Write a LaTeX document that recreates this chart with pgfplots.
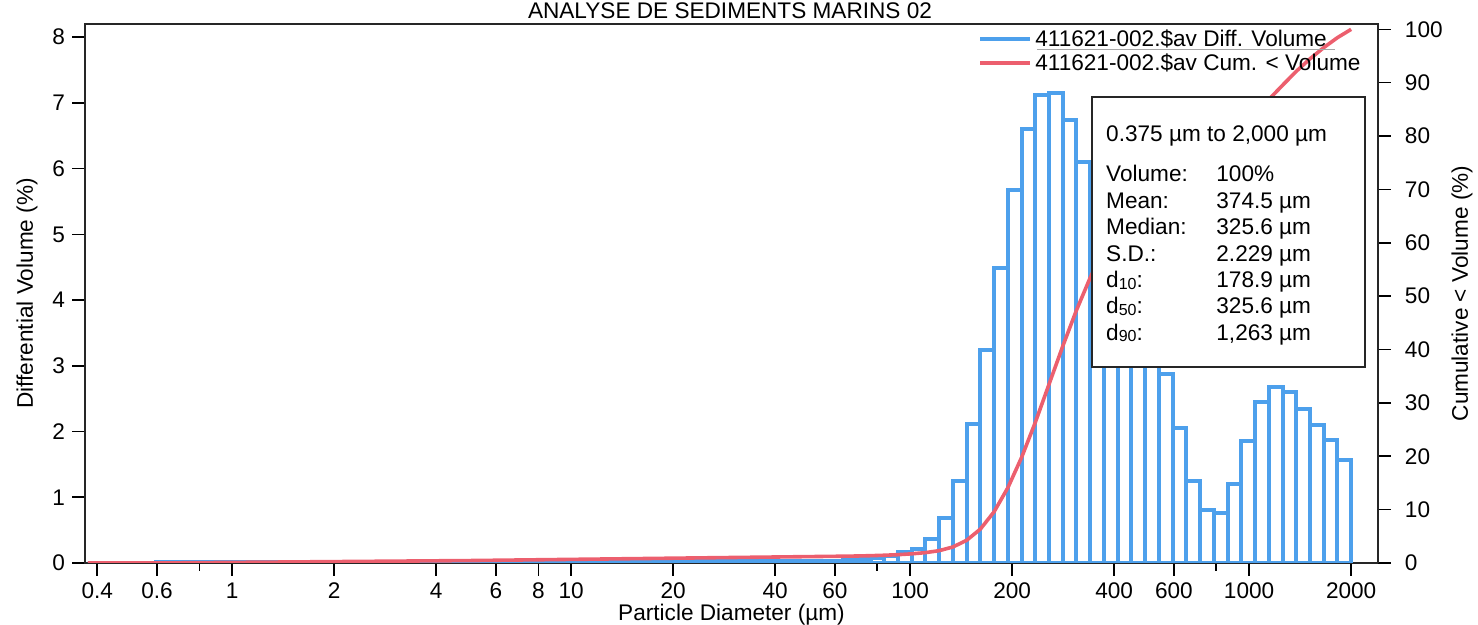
\documentclass[border=0pt]{standalone}
\usepackage{fontspec}
\setmainfont{Liberation Sans}
\usepackage{pgfplots}
\usepackage{pgfplotstable}
\pgfplotsset{compat=1.18}
\definecolor{barblue}{HTML}{4DA0EC}
\definecolor{cumred}{HTML}{EC5F6E}
\newcommand\fs{\fontsize{11.3}{13.5}\selectfont}

% differential volume per channel: lower edge of the channel, value (last row closes the interval)
\pgfplotstableread{
d v
0.375 0
0.412 0
0.452 0
0.496 0
0.545 0
0.598 0.02
0.657 0.02
0.721 0.02
0.791 0.02
0.869 0.02
0.954 0.02
1.047 0.02
1.149 0.02
1.261 0.02
1.385 0.02
1.520 0.02
1.669 0.02
1.832 0.02
2.011 0.02
2.208 0.02
2.423 0.02
2.660 0.02
2.920 0.02
3.206 0.02
3.519 0.02
3.862 0.02
4.241 0.02
4.656 0.02
5.111 0.03
5.611 0.03
6.158 0.03
6.761 0.03
7.421 0.03
8.147 0.03
8.944 0.03
9.819 0.03
10.78 0.03
11.83 0.03
12.99 0.03
14.26 0.03
15.65 0.03
17.18 0.03
18.86 0.03
20.71 0.03
22.73 0.03
24.95 0.03
27.39 0.03
30.07 0.03
33.01 0.03
36.24 0.03
39.78 0.03
43.67 0.03
47.94 0.03
52.62 0.03
57.77 0.03
63.41 0.04
69.61 0.055
76.42 0.08
83.89 0.11
92.09 0.16
101.1 0.22
111.0 0.37
121.8 0.69
133.7 1.25
146.8 2.11
161.2 3.24
176.9 4.49
194.2 5.68
213.2 6.60
234.1 7.12
256.9 7.15
282.1 6.74
309.6 6.10
339.9 5.30
373.1 4.55
409.6 3.90
449.7 3.35
493.6 3.03
541.9 2.87
594.9 2.05
653.0 1.25
716.9 0.80
786.9 0.76
863.9 1.20
948.3 1.85
1041 2.45
1143 2.68
1255 2.60
1377 2.35
1512 2.10
1660 1.87
1822 1.57
2000 0
}\diffvol

% cumulative < volume (%)
\pgfplotstableread{
d c
0.375 0
0.598 0
0.657 0.02
0.721 0.04
0.791 0.06
0.869 0.08
0.954 0.10
1.047 0.12
1.149 0.14
1.261 0.16
1.385 0.18
1.520 0.20
1.669 0.22
1.832 0.24
2.011 0.26
2.208 0.28
2.423 0.30
2.660 0.32
2.920 0.34
3.206 0.36
3.519 0.38
3.862 0.40
4.241 0.42
4.656 0.44
5.111 0.46
5.611 0.49
6.158 0.52
6.761 0.55
7.421 0.58
8.147 0.61
8.944 0.64
9.819 0.67
10.78 0.70
11.83 0.73
12.99 0.76
14.26 0.79
15.65 0.82
17.18 0.85
18.86 0.88
20.71 0.91
22.73 0.94
24.95 0.97
27.39 1.00
30.07 1.03
33.01 1.06
36.24 1.09
39.78 1.12
43.67 1.15
47.94 1.18
52.62 1.21
57.77 1.24
63.41 1.27
69.61 1.31
76.42 1.37
83.89 1.45
92.09 1.56
101.1 1.72
111.0 1.94
121.8 2.31
133.7 3.00
146.8 4.25
161.2 6.36
176.9 9.60
194.2 14.09
213.2 19.77
234.1 26.37
256.9 33.49
282.1 40.64
309.6 47.38
339.9 53.48
373.1 58.78
409.6 63.33
449.7 67.23
493.6 70.58
541.9 73.61
594.9 76.48
653.0 78.53
716.9 79.78
786.9 80.58
863.9 81.34
948.3 82.54
1041 84.39
1143 86.84
1255 89.52
1377 92.12
1512 94.47
1660 96.57
1822 98.44
2000 100
}\cumvol

\begin{document}
\begin{tikzpicture}
\begin{axis}[
  at={(0pt,0pt)}, anchor=south west,
  scale only axis, width=646.5pt, height=269.5pt,
  xmode=log, xmin=0.368, xmax=2400,
  ymin=0, ymax=8.2,
  xtick={0.4,0.6,1,2,4,6,8,10,20,40,60,100,200,400,600,1000,2000},
  xticklabels={0.4,0.6,1,2,4,6,8,10,20,40,60,100,200,400,600,1000,2000},
  minor xtick={0.8,80,800},
  ytick={0,1,...,8},
  xtick pos=bottom, ytick pos=left,
  tick align=outside,
  major tick length=6.5pt, minor tick length=4pt,
  every tick/.style={black, line width=0.8pt},
  axis line style={line width=1pt, black!85},
  tick label style={font=\fs},
  label style={font=\fs},
  /pgf/number format/assume math mode=true,
  xlabel={Particle Diameter (µm)},
  ylabel={Differential Volume (\%)},
  xlabel style={at={(axis description cs:0.5,-0.1058)}, anchor=base},
  ylabel style={at={(axis description cs:-0.0449,0.5)}, anchor=center},
]
\addplot[ybar interval, draw=barblue, fill=none, line width=2pt] table[x=d, y=v] {\diffvol};
\end{axis}

\begin{axis}[
  at={(0pt,0pt)}, anchor=south west,
  scale only axis, width=646.5pt, height=269.5pt,
  xmode=log, xmin=0.368, xmax=2400,
  ymin=0, ymax=101,
  axis x line=none, axis y line*=right,
  ytick={0,10,...,100},
  ytick pos=right,
  tick align=outside,
  major tick length=6.5pt,
  every tick/.style={black, line width=0.8pt},
  axis line style={line width=1pt, black!85},
  tick label style={font=\fs},
  yticklabel style={xshift=3.5pt},
  label style={font=\fs},
  /pgf/number format/assume math mode=true,
  ylabel={Cumulative < Volume (\%)},
  ylabel style={at={(axis description cs:1.065,0.5)}, anchor=center},
  legend style={at={(0.6906,0.996)}, anchor=north west, draw=none, fill=none,
    font=\fs, inner sep=0pt, row sep=-1pt, nodes={inner sep=1.5pt}},
  legend cell align=left,
  legend image code/.code={\draw[#1] (0pt,0pt) -- (25pt,0pt);},
]
\addlegendimage{draw=barblue, line width=2pt}
\addlegendentry{411621-002.\$av Diff. Volume}
\addplot[cumred, line width=1.8pt, line join=round] table[x=d, y=c] {\cumvol};
\addlegendentry{411621-002.\$av Cum. < Volume}
\end{axis}

% selection line under the first legend entry
\draw[gray!70, line width=0.5pt] (476pt,256.5pt) -- (625pt,256.5pt);

% statistics box
\filldraw[fill=white, draw=black!85, line width=0.9pt] (503.4pt,98pt) rectangle (640pt,232.9pt);
\begin{scope}[every node/.style={anchor=base west, inner sep=0pt, font=\fs}]
\node at (510.4pt,210.8pt) {0.375 µm to 2,000 µm};
\node at (510.4pt,190.5pt) {Volume:};  \node at (565.5pt,190.5pt) {100\%};
\node at (510.4pt,177.3pt) {Mean:};    \node at (565.5pt,177.3pt) {374.5 µm};
\node at (510.4pt,164.1pt) {Median:};  \node at (565.5pt,164.1pt) {325.6 µm};
\node at (510.4pt,150.9pt) {S.D.:};    \node at (565.5pt,150.9pt) {2.229 µm};
\node at (510.4pt,137.7pt) {d\raisebox{-0.8pt}{\fontsize{8}{9}\selectfont 10}:}; \node at (565.5pt,137.7pt) {178.9 µm};
\node at (510.4pt,124.5pt) {d\raisebox{-0.8pt}{\fontsize{8}{9}\selectfont 50}:}; \node at (565.5pt,124.5pt) {325.6 µm};
\node at (510.4pt,111.3pt) {d\raisebox{-0.8pt}{\fontsize{8}{9}\selectfont 90}:}; \node at (565.5pt,111.3pt) {1,263 µm};
\end{scope}

% title
\node[anchor=base, inner sep=0pt, font=\fs] at (322.5pt,272.3pt) {ANALYSE DE SEDIMENTS MARINS 02};

\pgfresetboundingbox
\useasboundingbox (-42.5pt,-31pt) rectangle (696.5pt,281.5pt);
\end{tikzpicture}
\end{document}
